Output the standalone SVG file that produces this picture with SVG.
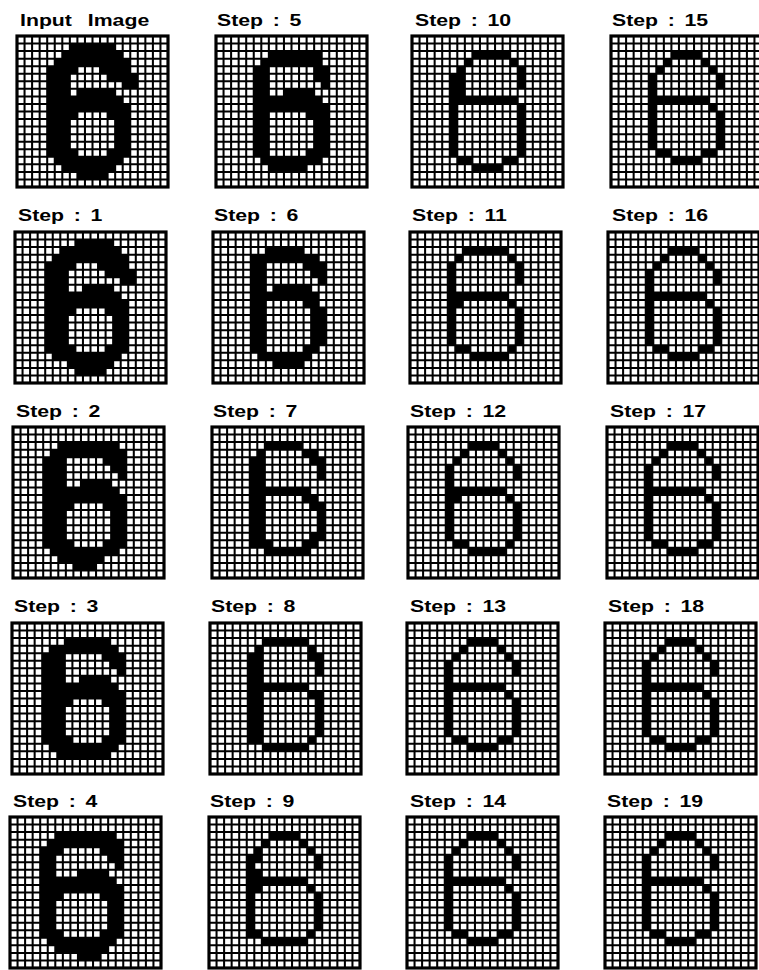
<svg xmlns="http://www.w3.org/2000/svg" xmlns:xlink="http://www.w3.org/1999/xlink" width="759" height="970" viewBox="0 0 759 970">
<style>
.t{font-family:"Liberation Sans",Arial,Helvetica,sans-serif;font-weight:bold;font-size:17px;word-spacing:3px;fill:#000}
.bg{fill:#fff}
.ln{fill:none;stroke:#000;stroke-width:0.27}
.bd{fill:none;stroke:#000;stroke-width:0.42}
</style>
<defs>
<g id="gl">
<path class="ln" d="M0 0V20M1 0V20M2 0V20M3 0V20M4 0V20M5 0V20M6 0V20M7 0V20M8 0V20M9 0V20M10 0V20M11 0V20M12 0V20M13 0V20M14 0V20M15 0V20M16 0V20M17 0V20M18 0V20M19 0V20M20 0V20M0 0H20M0 1H20M0 2H20M0 3H20M0 4H20M0 5H20M0 6H20M0 7H20M0 8H20M0 9H20M0 10H20M0 11H20M0 12H20M0 13H20M0 14H20M0 15H20M0 16H20M0 17H20M0 18H20M0 19H20M0 20H20"/>
<rect class="bd" width="20" height="20"/>
</g>
<path id="b0" fill="#000" d="M7 1H13V2H7zM6 2H14V3H6zM5 3H15V4H5zM4 4H8V5H4zM11 4H15V5H11zM4 5H7V6H4zM12 5H16V6H12zM4 6H7V7H4zM14 6H16V7H14zM4 7H7V8H4zM8 7H13V8H8zM4 8H14V9H4zM4 9H15V10H4zM4 10H8V11H4zM12 10H15V11H12zM4 11H7V15H4zM13 11H15V15H13zM4 15H8V16H4zM12 15H15V16H12zM5 16H14V17H5zM6 17H13V18H6zM8 18H12V19H8z"/>
<path id="b1" fill="#000" d="M8 1H13V2H8zM6 2H14V3H6zM5 3H15V4H5zM4 4H8V5H4zM11 4H15V5H11zM4 5H7V6H4zM12 5H16V6H12zM4 6H7V7H4zM14 6H16V7H14zM4 7H7V8H4zM9 7H13V8H9zM4 8H14V9H4zM4 9H15V10H4zM4 10H8V11H4zM12 10H15V11H12zM4 11H7V15H4zM13 11H15V15H13zM4 15H8V16H4zM12 15H15V16H12zM5 16H14V17H5zM7 17H13V18H7zM8 18H12V19H8z"/>
<path id="b2" fill="#000" d="M6 2H14V3H6zM5 3H15V4H5zM4 4H7V5H4zM12 4H15V5H12zM4 5H7V6H4zM13 5H15V6H13zM4 6H7V7H4zM14 6H15V7H14zM4 7H7V8H4zM9 7H13V8H9zM4 8H14V9H4zM4 9H15V10H4zM4 10H8V11H4zM12 10H15V11H12zM4 11H7V15H4zM13 11H15V15H13zM4 15H8V16H4zM12 15H15V16H12zM5 16H14V17H5zM6 17H12V18H6zM8 18H11V19H8z"/>
<path id="b3" fill="#000" d="M7 2H13V3H7zM5 3H14V4H5zM4 4H7V5H4zM12 4H15V5H12zM4 5H7V6H4zM13 5H15V6H13zM4 6H7V7H4zM14 6H15V7H14zM4 7H7V8H4zM9 7H13V8H9zM4 8H14V9H4zM4 9H15V10H4zM4 10H8V11H4zM12 10H15V11H12zM4 11H7V15H4zM13 11H15V15H13zM4 15H8V16H4zM12 15H15V16H12zM5 16H14V17H5zM6 17H13V18H6z"/>
<path id="b4" fill="#000" d="M6 2H14V3H6zM5 3H15V4H5zM4 4H7V5H4zM12 4H15V5H12zM4 5H6V6H4zM13 5H15V6H13zM4 6H6V7H4zM14 6H15V7H14zM4 7H6V8H4zM9 7H13V8H9zM4 8H14V9H4zM4 9H15V10H4zM4 10H7V11H4zM12 10H15V11H12zM4 11H6V15H4zM13 11H15V15H13zM4 15H7V16H4zM12 15H15V16H12zM5 16H14V17H5zM6 17H13V18H6zM9 18H12V19H9z"/>
<path id="b5" fill="#000" d="M7 2H14V3H7zM6 3H14V4H6zM5 4H7V5H5zM13 4H15V5H13zM5 5H7V6H5zM13 5H15V6H13zM5 6H7V7H5zM14 6H15V7H14zM5 7H7V8H5zM9 7H13V8H9zM5 8H14V9H5zM5 9H15V10H5zM5 10H7V11H5zM12 10H15V11H12zM5 11H7V15H5zM13 11H15V15H13zM5 15H7V16H5zM12 15H15V16H12zM6 16H14V17H6zM7 17H12V18H7z"/>
<path id="b6" fill="#000" d="M7 2H12V3H7zM5 3H14V4H5zM5 4H7V5H5zM12 4H15V5H12zM5 5H7V6H5zM13 5H15V6H13zM5 6H7V7H5zM14 6H15V7H14zM5 7H7V8H5zM8 7H13V8H8zM5 8H14V9H5zM5 9H7V10H5zM12 9H14V10H12zM5 10H7V15H5zM13 10H15V15H13zM5 15H7V16H5zM12 15H14V16H12zM6 16H13V17H6zM8 17H12V18H8z"/>
<path id="b7" fill="#000" d="M7 2H12V3H7zM6 3H7V4H6zM12 3H14V4H12zM5 4H7V5H5zM13 4H15V5H13zM5 5H7V7H5zM14 5H15V7H14zM5 7H7V8H5zM5 8H13V9H5zM5 9H7V10H5zM12 9H14V10H12zM5 10H7V11H5zM13 10H15V11H13zM5 11H7V14H5zM14 11H15V14H14zM5 14H7V15H5zM13 14H15V15H13zM5 15H8V16H5zM12 15H14V16H12zM7 16H13V17H7z"/>
<path id="b8" fill="#000" d="M7 2H13V3H7zM6 3H7V4H6zM13 3H14V4H13zM5 4H7V5H5zM13 4H15V5H13zM5 5H7V7H5zM14 5H15V7H14zM5 7H7V8H5zM5 8H13V9H5zM5 9H7V10H5zM13 9H15V10H13zM5 10H7V15H5zM14 10H15V15H14zM5 15H7V16H5zM13 15H14V16H13zM7 16H13V17H7z"/>
<path id="b9" fill="#000" d="M8 2H12V3H8zM7 3H8V4H7zM12 3H13V4H12zM6 4H7V5H6zM13 4H14V5H13zM5 5H7V6H5zM14 5H15V6H14zM5 6H6V7H5zM14 6H15V7H14zM5 7H7V8H5zM5 8H13V9H5zM5 9H7V10H5zM13 9H14V10H13zM5 10H6V15H5zM14 10H15V15H14zM5 15H7V16H5zM13 15H14V16H13zM7 16H13V17H7z"/>
<path id="b10" fill="#000" d="M8 2H13V3H8zM7 3H8V4H7zM13 3H14V4H13zM6 4H7V5H6zM14 4H15V5H14zM5 5H7V8H5zM14 5H15V7H14zM5 8H14V9H5zM5 9H6V10H5zM14 9H15V10H14zM5 10H6V16H5zM14 10H15V16H14zM6 16H8V17H6zM12 16H14V17H12zM8 17H12V18H8z"/>
<path id="b11" fill="#000" d="M7 2H13V3H7zM6 3H7V4H6zM13 3H14V4H13zM5 4H6V8H5zM14 4H15V7H14zM5 8H13V9H5zM5 9H7V10H5zM13 9H14V10H13zM5 10H6V15H5zM14 10H15V15H14zM6 15H8V16H6zM13 15H14V16H13zM8 16H13V17H8z"/>
<path id="b12" fill="#000" d="M8 2H12V3H8zM7 3H8V4H7zM12 3H13V4H12zM6 4H7V5H6zM13 4H14V5H13zM5 5H6V8H5zM14 5H15V7H14zM5 8H13V9H5zM5 9H7V10H5zM13 9H14V10H13zM5 10H6V15H5zM14 10H15V15H14zM6 15H8V16H6zM13 15H14V16H13zM8 16H13V17H8z"/>
<path id="bS" fill="#000" d="M8 2H12V3H8zM7 3H8V4H7zM12 3H13V4H12zM6 4H7V5H6zM13 4H14V5H13zM5 5H6V8H5zM14 5H15V7H14zM5 8H13V9H5zM5 9H6V10H5zM13 9H14V10H13zM5 10H6V15H5zM14 10H15V15H14zM6 15H8V16H6zM12 15H14V16H12zM8 16H12V17H8z"/>
</defs>
<rect width="759" height="970" fill="#fff"/>
<g id="connectors"/>
<g id="input">
<text class="t" transform="translate(20,26) scale(1.25 1)">Input <tspan dx="5">Image</tspan></text>
<g transform="translate(17,36) scale(7.55)"><rect class="bg" width="20" height="20"/><use href="#b0"/><use href="#gl"/></g>
</g>
<g id="step1">
<text class="t" transform="translate(18,221) scale(1.25 1)">Step : 1</text>
<g transform="translate(15,232) scale(7.55)"><rect class="bg" width="20" height="20"/><use href="#b1"/><use href="#gl"/></g>
</g>
<g id="step2">
<text class="t" transform="translate(16,417) scale(1.25 1)">Step : 2</text>
<g transform="translate(13,427) scale(7.55)"><rect class="bg" width="20" height="20"/><use href="#b2"/><use href="#gl"/></g>
</g>
<g id="step3">
<text class="t" transform="translate(14,612) scale(1.25 1)">Step : 3</text>
<g transform="translate(12,623) scale(7.55)"><rect class="bg" width="20" height="20"/><use href="#b3"/><use href="#gl"/></g>
</g>
<g id="step4">
<text class="t" transform="translate(13,807) scale(1.25 1)">Step : 4</text>
<g transform="translate(10,817) scale(7.55)"><rect class="bg" width="20" height="20"/><use href="#b4"/><use href="#gl"/></g>
</g>
<g id="step5">
<text class="t" transform="translate(217,26) scale(1.25 1)">Step : 5</text>
<g transform="translate(216,36) scale(7.55)"><rect class="bg" width="20" height="20"/><use href="#b5"/><use href="#gl"/></g>
</g>
<g id="step6">
<text class="t" transform="translate(214,221) scale(1.25 1)">Step : 6</text>
<g transform="translate(213,232) scale(7.55)"><rect class="bg" width="20" height="20"/><use href="#b6"/><use href="#gl"/></g>
</g>
<g id="step7">
<text class="t" transform="translate(213,417) scale(1.25 1)">Step : 7</text>
<g transform="translate(212,427) scale(7.55)"><rect class="bg" width="20" height="20"/><use href="#b7"/><use href="#gl"/></g>
</g>
<g id="step8">
<text class="t" transform="translate(211,612) scale(1.25 1)">Step : 8</text>
<g transform="translate(210,623) scale(7.55)"><rect class="bg" width="20" height="20"/><use href="#b8"/><use href="#gl"/></g>
</g>
<g id="step9">
<text class="t" transform="translate(210,807) scale(1.25 1)">Step : 9</text>
<g transform="translate(209,817) scale(7.55)"><rect class="bg" width="20" height="20"/><use href="#b9"/><use href="#gl"/></g>
</g>
<g id="step10">
<text class="t" transform="translate(415,26) scale(1.25 1)">Step : 10</text>
<g transform="translate(412,36) scale(7.55)"><rect class="bg" width="20" height="20"/><use href="#b10"/><use href="#gl"/></g>
</g>
<g id="step11">
<text class="t" transform="translate(412,221) scale(1.25 1)">Step : 11</text>
<g transform="translate(410,232) scale(7.55)"><rect class="bg" width="20" height="20"/><use href="#b11"/><use href="#gl"/></g>
</g>
<g id="step12">
<text class="t" transform="translate(410,417) scale(1.25 1)">Step : 12</text>
<g transform="translate(408,427) scale(7.55)"><rect class="bg" width="20" height="20"/><use href="#b12"/><use href="#gl"/></g>
</g>
<g id="step13">
<text class="t" transform="translate(410,612) scale(1.25 1)">Step : 13</text>
<g transform="translate(407,623) scale(7.55)"><rect class="bg" width="20" height="20"/><use href="#bS"/><use href="#gl"/></g>
</g>
<g id="step14">
<text class="t" transform="translate(410,807) scale(1.25 1)">Step : 14</text>
<g transform="translate(407,817) scale(7.55)"><rect class="bg" width="20" height="20"/><use href="#bS"/><use href="#gl"/></g>
</g>
<g id="step15">
<text class="t" transform="translate(612,26) scale(1.25 1)">Step : 15</text>
<g transform="translate(611,36) scale(7.55)"><rect class="bg" width="20" height="20"/><use href="#bS"/><use href="#gl"/></g>
</g>
<g id="step16">
<text class="t" transform="translate(612,221) scale(1.25 1)">Step : 16</text>
<g transform="translate(608,232) scale(7.55)"><rect class="bg" width="20" height="20"/><use href="#bS"/><use href="#gl"/></g>
</g>
<g id="step17">
<text class="t" transform="translate(610,417) scale(1.25 1)">Step : 17</text>
<g transform="translate(607,427) scale(7.55)"><rect class="bg" width="20" height="20"/><use href="#bS"/><use href="#gl"/></g>
</g>
<g id="step18">
<text class="t" transform="translate(608,612) scale(1.25 1)">Step : 18</text>
<g transform="translate(605,623) scale(7.55)"><rect class="bg" width="20" height="20"/><use href="#bS"/><use href="#gl"/></g>
</g>
<g id="step19">
<text class="t" transform="translate(607,807) scale(1.25 1)">Step : 19</text>
<g transform="translate(605,817) scale(7.55)"><rect class="bg" width="20" height="20"/><use href="#bS"/><use href="#gl"/></g>
</g>
</svg>
